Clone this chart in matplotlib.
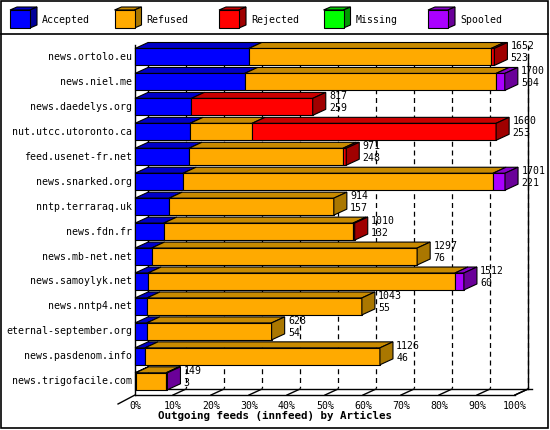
import matplotlib.pyplot as plt
from matplotlib.patches import Polygon, Rectangle

hosts = ["news.ortolo.eu", "news.niel.me", "news.daedelys.org", "nut.utcc.utoronto.ca",
         "feed.usenet-fr.net", "news.snarked.org", "nntp.terraraq.uk", "news.fdn.fr",
         "news.mb-net.net", "news.samoylyk.net", "news.nntp4.net", "eternal-september.org",
         "news.pasdenom.info", "news.trigofacile.com"]
totals = [1652, 1700, 817, 1660, 971, 1701, 914, 1010, 1297, 1512, 1043, 628, 1126, 149]
accepted = [523, 504, 259, 253, 248, 221, 157, 132, 76, 60, 55, 54, 46, 3]
refused = [1114, 1156, 0, 285, 708, 1425, 757, 870, 1221, 1411, 988, 574, 1080, 140]
rejected = [15, 0, 558, 1122, 15, 0, 0, 8, 0, 0, 0, 0, 0, 0]
missing = [0] * 14
spooled = [0, 40, 0, 0, 0, 55, 0, 0, 0, 41, 0, 0, 0, 6]

names = ["Accepted", "Refused", "Rejected", "Missing", "Spooled"]
front = ["#0000ff", "#ffaa00", "#ff0000", "#00ff00", "#aa00ff"]
top = ["#0000c8", "#c88a00", "#c80000", "#00c800", "#8800cc"]
side = ["#00009a", "#aa7700", "#a00000", "#009a00", "#6a0099"]

mono = "DejaVu Sans Mono"
fs = 7.1
xmax = 1747
dx, dy = 60, -0.24   # bar depth in data units
hh = 0.34

fig = plt.figure(figsize=(5.5, 4.3), dpi=100)
ax = fig.add_axes([135 / 550, 1 - 395 / 430, 380 / 550, 350 / 430])
ax.set_xlim(0, xmax)
ax.set_ylim(13.55, -0.48)
ax.axis("off")

# back wall grid
for k in range(1, 11):
    xv = xmax * k / 10 + dx
    ax.plot([xv, xv], [-0.48, 13.55 + dy - 0.05], color="black", lw=0.9,
            ls=(0, (4, 3)), clip_on=False, zorder=0)
    ax.plot([xmax * k / 10, xv], [13.55, 13.55 + dy], color="black", lw=1,
            clip_on=False)
ax.plot([0, 0], [-0.48, 13.55], color="black", lw=1, clip_on=False)
ax.plot([dx, dx], [-0.48, 13.55 + dy], color="black", lw=1, clip_on=False)
ax.plot([0, xmax], [13.55, 13.55], color="black", lw=1, clip_on=False)
ax.plot([dx, xmax + dx * 1.3], [13.55 + dy, 13.55 + dy], color="black", lw=1, clip_on=False)
ax.plot([xmax + dx, xmax + dx], [-0.1, 13.55 + dy], color="black", lw=1, clip_on=False)
ax.plot([0, -dx * 1.3], [13.55, 13.55 - dy * 1.5], color="black", lw=1, clip_on=False)
ax.plot([xmax, xmax + dx], [13.55, 13.55 + dy], color="black", lw=1, clip_on=False)
for k in range(11):
    ax.text(xmax * k / 10, 13.55 + 0.45, f"{k * 10}%", ha="center", va="center",
            fontsize=fs, family=mono, clip_on=False)

for i, h in enumerate(hosts):
    segs = [accepted[i], refused[i], rejected[i], missing[i], spooled[i]]
    x0 = 0
    last = max(j for j, s in enumerate(segs) if s > 0)
    for j, s in enumerate(segs):
        if s <= 0:
            continue
        x1 = x0 + s
        ax.add_patch(Polygon([(x0, i - hh), (x0 + dx, i - hh + dy), (x1 + dx, i - hh + dy),
                              (x1, i - hh)], closed=True, fc=top[j], ec="black", lw=0.8,
                             clip_on=False, zorder=2))
        ax.add_patch(Rectangle((x0, i - hh), s, 2 * hh, fc=front[j], ec="black", lw=0.8,
                               clip_on=False, zorder=3))
        if j == last:
            ax.add_patch(Polygon([(x1, i - hh), (x1 + dx, i - hh + dy), (x1 + dx, i + hh + dy),
                                  (x1, i + hh)], closed=True, fc=side[j], ec="black", lw=0.8,
                                 clip_on=False, zorder=3))
        x0 = x1
    ax.text(-12, i, h, ha="right", va="center", fontsize=fs, family=mono, clip_on=False)
    ax.text(totals[i] + dx + 15, i - 0.42, str(totals[i]), ha="left", va="center",
            fontsize=fs, family=mono, zorder=5)
    ax.text(totals[i] + dx + 15, i + 0.06, str(accepted[i]), ha="left", va="center",
            fontsize=fs, family=mono, zorder=5)

# overlay: frames, legend, title
ov = fig.add_axes([0, 0, 1, 1], zorder=-1)
ov.set_xlim(0, 550)
ov.set_ylim(430, 0)
ov.axis("off")
ov.add_patch(Rectangle((1, 1), 547, 427, fc="none", ec="black", lw=1.2))
ov.plot([1, 548], [34, 34], color="black", lw=1.2)
for j, n in enumerate(names):
    lx = 10 + 104.5 * j
    ov.add_patch(Polygon([(lx, 10), (lx + 7, 7), (lx + 27, 7), (lx + 20, 10)], fc=top[j], ec="black", lw=0.8))
    ov.add_patch(Polygon([(lx + 20, 10), (lx + 27, 7), (lx + 27, 25), (lx + 20, 28)], fc=side[j], ec="black", lw=0.8))
    ov.add_patch(Rectangle((lx, 10), 20, 18, fc=front[j], ec="black", lw=0.8))
    ov.text(lx + 32, 20, n, ha="left", va="center", fontsize=fs, family=mono)
ov.text(275, 416, "Outgoing feeds (innfeed) by Articles", ha="center", va="center",
        fontsize=7.8, family=mono, fontweight="bold")

fig.savefig("out.png", dpi=100)
